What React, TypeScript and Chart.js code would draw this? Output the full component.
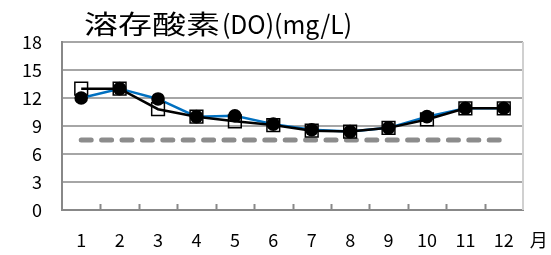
import React, { useEffect, useRef } from "react";
import { Chart, registerables } from "chart.js";

Chart.register(...registerables);

const months = ["1", "2", "3", "4", "5", "6", "7", "8", "9", "10", "11", "12"];
const circleSeries = [12, 13, 11.9, 10, 10.1, 9.2, 8.6, 8.4, 8.8, 10, 10.9, 10.9];
const squareSeries = [13, 13, 10.8, 10, 9.5, 9.1, 8.5, 8.4, 8.8, 9.7, 10.9, 10.9];
const standardSeries = [7.5, 7.5, 7.5, 7.5, 7.5, 7.5, 7.5, 7.5, 7.5, 7.5, 7.5, 7.5];
const yTicks = [0, 3, 6, 9, 12, 15, 18];
const titleMain = "溶存酸素";
const titleSub = "(DO)(mg/L)";
const unitText = "月";

const FONT = "'Noto Sans CJK JP', 'Noto Sans', sans-serif";

const decorPlugin = {
  id: "decor",
  afterDraw(chart: any) {
    const { ctx, chartArea } = chart;
    const xs = chart.scales.x;
    ctx.save();
    const n = months.length;
    const w = (chartArea.right - chartArea.left) / n;
    ctx.strokeStyle = "#888888";
    ctx.lineWidth = 2;
    for (let k = 1; k < n; k++) {
      const x = Math.round(chartArea.left + k * w) + 0.5;
      ctx.beginPath();
      ctx.moveTo(x, chartArea.bottom);
      ctx.lineTo(x, chartArea.bottom - 6);
      ctx.stroke();
    }
    ctx.strokeStyle = "#d0d0d0";
    ctx.lineWidth = 2;
    ctx.beginPath();
    ctx.moveTo(chartArea.right, chartArea.top);
    ctx.lineTo(chartArea.right, chartArea.bottom);
    ctx.stroke();
    // title
    ctx.fillStyle = "#000";
    ctx.font = `26px ${FONT}`;
    ctx.textAlign = "left";
    ctx.textBaseline = "middle";
    const titleY = 24;
    const mainStart = 84;
    const mainTarget = 136;
    const mainW = ctx.measureText(titleMain).width;
    ctx.save();
    ctx.translate(mainStart, titleY);
    ctx.scale(mainTarget / mainW, 1);
    ctx.fillText(titleMain, 0, 0);
    ctx.restore();
    const subStart = mainStart + mainTarget + 2;
    const subW = ctx.measureText(titleSub).width;
    const subTarget = 352 - subStart;
    ctx.save();
    ctx.translate(subStart, titleY);
    ctx.scale(subTarget / subW, 1);
    ctx.fillText(titleSub, 0, 0);
    ctx.restore();
    // unit label
    ctx.font = `18px ${FONT}`;
    ctx.textAlign = "center";
    const lastX = xs.getPixelForValue(n - 1);
    ctx.fillText(unitText, lastX + 35, 240);
    ctx.restore();
  },
};

export default function App() {
  const ref = useRef<HTMLCanvasElement | null>(null);
  useEffect(() => {
    if (!ref.current) return;
    const chart = new Chart(ref.current, {
      type: "line",
      data: {
        labels: months,
        datasets: [
          {
            label: "standard",
            data: standardSeries,
            borderColor: "#8c8c8c",
            borderWidth: 5,
            borderDash: [10, 10.4],
            borderCapStyle: "round",
            pointRadius: 0,
            fill: false,
            tension: 0,
            order: 4,
          },
          {
            label: "blue",
            data: circleSeries,
            borderColor: "#0070C0",
            borderWidth: 2.5,
            pointRadius: 0,
            fill: false,
            tension: 0,
            order: 3,
          },
          {
            label: "squares",
            data: squareSeries,
            borderColor: "#000000",
            borderWidth: 2.5,
            pointStyle: "rect",
            pointRadius: 9,
            pointBorderWidth: 1.5,
            pointBorderColor: "#000000",
            pointBackgroundColor: "rgba(0,0,0,0)",
            fill: false,
            tension: 0,
            order: 2,
          },
          {
            label: "circles",
            data: circleSeries,
            showLine: false,
            pointStyle: "circle",
            pointRadius: 6.8,
            pointBorderWidth: 0,
            pointBackgroundColor: "#000000",
            pointBorderColor: "#000000",
            order: 1,
          },
        ],
      },
      options: {
        animation: false,
        responsive: false,
        maintainAspectRatio: false,
        layout: { padding: { top: 42, right: 28, left: 0, bottom: 0 } },
        plugins: {
          legend: { display: false },
          tooltip: { enabled: false },
          title: { display: false },
        },
        scales: {
          x: {
            type: "category",
            offset: true,
            grid: { display: false, drawTicks: false },
            border: { display: true, color: "#888888", width: 2 },
            ticks: {
              color: "#000",
              font: { size: 18, family: FONT },
              padding: 19,
              maxRotation: 0,
              autoSkip: false,
            },
            afterFit(scale: any) {
              scale.height = 45;
            },
          },
          y: {
            min: 0,
            max: 18,
            afterBuildTicks(scale: any) {
              scale.ticks = yTicks.map((v) => ({ value: v }));
            },
            grid: { color: "#a6a6a6", lineWidth: 2, drawTicks: false },
            border: { display: true, color: "#888888", width: 2 },
            ticks: {
              color: "#000",
              font: { size: 18, family: FONT },
              padding: 20,
            },
            afterFit(scale: any) {
              scale.width = 62;
            },
          },
        },
      },
      plugins: [decorPlugin],
    });
    return () => chart.destroy();
  }, []);
  return (
    <div style={{ position: "fixed", left: 0, top: 0, width: 551, height: 255, background: "#fff" }}>
      <canvas ref={ref} width={551} height={255} style={{ width: 551, height: 255 }} />
    </div>
  );
}
